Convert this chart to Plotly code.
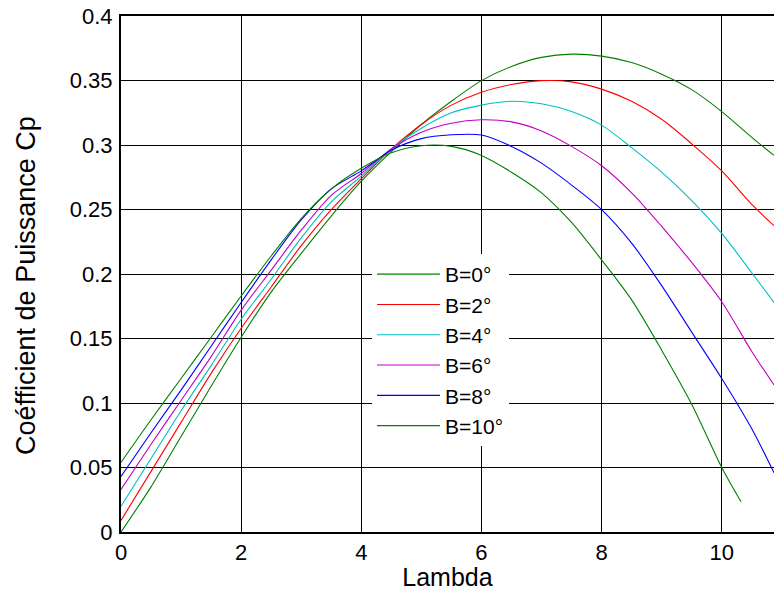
import plotly.graph_objects as go

# ---- data ----
lam = [0, 0.5, 1, 1.5, 2, 2.5, 3, 3.5, 4, 4.5, 5, 5.5, 6, 6.5, 7, 7.5, 8, 8.5, 9, 9.5, 10, 10.5, 10.87]
cp_b0 = [0.0, 0.035, 0.074, 0.113, 0.151, 0.186, 0.216, 0.245, 0.272, 0.295, 0.316, 0.334, 0.350, 0.361,
         0.368, 0.3705, 0.369, 0.364, 0.355, 0.343, 0.326, 0.306, 0.292]
cp_b2 = [0.009, 0.047, 0.085, 0.123, 0.158, 0.190, 0.222, 0.250, 0.274, 0.297, 0.316, 0.331, 0.341, 0.347,
         0.350, 0.349, 0.3434, 0.334, 0.320, 0.301, 0.280, 0.254, 0.2375]
cp_b4 = [0.020, 0.057, 0.094, 0.129, 0.165, 0.196, 0.228, 0.256, 0.276, 0.297, 0.313, 0.325, 0.331, 0.334,
         0.332, 0.326, 0.3155, 0.298, 0.279, 0.257, 0.2315, 0.201, 0.178]
cp_b6 = [0.033, 0.068, 0.102, 0.136, 0.172, 0.203, 0.234, 0.261, 0.278, 0.297, 0.310, 0.317, 0.3196, 0.318,
         0.311, 0.299, 0.284, 0.263, 0.237, 0.209, 0.1785, 0.140, 0.114]
cp_b8 = [0.043, 0.077, 0.110, 0.144, 0.178, 0.211, 0.242, 0.266, 0.280, 0.296, 0.305, 0.308, 0.3078, 0.299,
         0.286, 0.269, 0.250, 0.224, 0.191, 0.155, 0.119, 0.080, 0.046]
lam10 = [0, 0.5, 1, 1.5, 2, 2.5, 3, 3.5, 4, 4.5, 5, 5.5, 6, 6.5, 7, 7.5, 8, 8.5, 9, 9.5, 10, 10.32]
cp_b10 = [0.054, 0.087, 0.119, 0.151, 0.183, 0.214, 0.243, 0.266, 0.282, 0.294, 0.2995, 0.299, 0.292, 0.279,
          0.263, 0.240, 0.211, 0.180, 0.141, 0.099, 0.050, 0.0235]

series_names = ["B=0°", "B=2°", "B=4°", "B=6°", "B=8°", "B=10°"]
series_x = [lam, lam, lam, lam, lam, lam10]
series_y = [cp_b0, cp_b2, cp_b4, cp_b6, cp_b8, cp_b10]
series_colors = ["#008000", "#ff0000", "#00bfbf", "#bf00bf", "#0000ff", "#008000"]

x_ticks = [0, 2, 4, 6, 8, 10]
y_ticks = [0, 0.05, 0.1, 0.15, 0.2, 0.25, 0.3, 0.35, 0.4]
y_ticktext = ["0", "0.05", "0.1", "0.15", "0.2", "0.25", "0.3", "0.35", "0.4"]

FONT = "Liberation Sans, Arial, Helvetica, sans-serif"

fig = go.Figure()
for name, xs, ys, col in zip(series_names, series_x, series_y, series_colors):
    fig.add_trace(go.Scatter(x=xs, y=ys, mode="lines", name=name,
                             line=dict(color=col, width=1.1, shape="spline", smoothing=0.8)))

fig.update_layout(
    width=774, height=591,
    margin=dict(l=121, r=0, t=16, b=59),
    paper_bgcolor="white", plot_bgcolor="white",
    font=dict(family=FONT, color="black", size=22),
    legend=dict(x=0.3844, y=0.5388, xanchor="left", yanchor="top",
                bgcolor="white", borderwidth=0, font=dict(size=21, family=FONT),
                tracegroupgap=0, itemwidth=63),
    annotations=[dict(text="Coéfficient de Puissance Cp", xref="paper", yref="paper",
                      x=-0.1455, y=0.4787, xanchor="center", yanchor="middle",
                      textangle=-90, showarrow=False, font=dict(size=27, family=FONT))],
)
fig.update_xaxes(range=[0, 10.87], tickvals=x_ticks, showgrid=True, gridcolor="black", gridwidth=1.4,
                 showline=True, linecolor="black", linewidth=2, mirror=True, zeroline=False,
                 ticks="", tickfont=dict(size=22, family=FONT),
                 title=dict(text="Lambda", font=dict(size=25, family=FONT), standoff=7))
fig.update_yaxes(range=[0, 0.4001], tickvals=y_ticks, ticktext=y_ticktext, showgrid=True, gridcolor="black",
                 gridwidth=1.4, showline=True, linecolor="black", linewidth=2, zeroline=False,
                 ticks="", tickfont=dict(size=22, family=FONT), ticklabelstandoff=2)

fig.write_html("out.html", config={"displayModeBar": False},
               post_script="document.body.style.margin='0px';document.body.style.overflow='hidden';")
